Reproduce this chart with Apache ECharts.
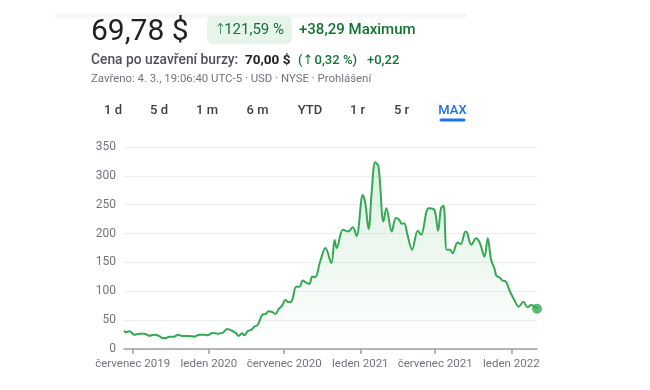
<!DOCTYPE html>
<html>
<head>
<meta charset="utf-8">
<script src="https://cdn.jsdelivr.net/npm/echarts@6/dist/echarts.min.js"></script>
<style>
html,body{margin:0;padding:0;background:#fff;}
#chart{width:650px;height:390px;}
</style>
</head>
<body>
<div id="chart"></div>
<script>
// ---- data ----
var dates = [
 '2019-06-10','2019-06-15','2019-06-23','2019-07-05','2019-07-17','2019-07-29','2019-08-10','2019-08-22',
 '2019-09-03','2019-09-11','2019-09-19','2019-09-27','2019-10-09','2019-10-19','2019-10-29','2019-11-15',
 '2019-11-27','2019-12-09','2019-12-21','2019-12-29','2020-01-10','2020-01-22','2020-02-03','2020-02-15',
 '2020-02-27','2020-03-07','2020-03-13','2020-03-21','2020-03-27','2020-04-04','2020-04-12','2020-04-20',
 '2020-04-28','2020-05-09','2020-05-18','2020-05-24','2020-06-02','2020-06-10','2020-06-18','2020-06-26',
 '2020-07-04','2020-07-12','2020-07-20','2020-07-30','2020-08-07','2020-08-15','2020-08-23','2020-08-31',
 '2020-09-07','2020-09-14','2020-09-26','2020-10-09','2020-10-23','2020-10-31','2020-11-05','2020-11-20',
 '2020-12-02','2020-12-14','2020-12-23','2021-01-07','2021-01-13','2021-01-21','2021-01-29','2021-02-06',
 '2021-02-14','2021-02-26','2021-03-05','2021-03-18','2021-03-28','2021-04-05','2021-04-11','2021-04-17',
 '2021-04-25','2021-05-06','2021-05-20','2021-05-28','2021-06-15','2021-06-29','2021-07-08','2021-07-15',
 '2021-07-21','2021-07-29','2021-08-06','2021-08-12','2021-08-24','2021-09-01','2021-09-12','2021-09-16',
 '2021-09-26','2021-10-08','2021-10-17','2021-10-28','2021-11-05','2021-11-13','2021-11-21','2021-11-26',
 '2021-12-03','2021-12-11','2021-12-19','2021-12-27','2022-01-08','2022-01-19','2022-01-30','2022-02-09',
 '2022-02-18','2022-03-04'
];
var prices = [
 31.8,29,30.7,24.8,26.6,26.6,23,24.8,
 22.6,19,19,21.4,21.4,24.8,22.6,22.6,
 21.4,24.8,24.8,23.8,27.8,26.6,27.8,34.7,
 31.2,27.2,22.6,27.2,23.8,31.2,33,38.7,
 41.7,59,60.8,65.4,64.2,60.8,69.4,74.6,
 85,81,83.9,108,108,118.6,115,112.8,
 125.5,124.4,151.6,174.8,148.8,189,174.8,206.6,
 203.6,211,196,267,253,207.8,276,323.4,
 316.5,221,244,203.6,227,224,217,218,
 198,172,205,198,244,241,205,244,
 248,172,172,166,184.5,182,203.6,202,
 180.5,192,183.5,160,192,154.5,140,126.7,
 124.4,118.6,116.8,102.4,85,73.4,82,72.4,
 76.4,69.78
];
var tickDates = ['2019-07-01','2020-01-01','2020-07-01','2021-01-01','2021-07-01','2022-01-01'];
var yTicks = [0,50,100,150,200,250,300,350];
var monthNames = ['leden','únor','březen','duben','květen','červen','červenec','srpen','září','říjen','listopad','prosinec'];
var tabs = ['1 d','5 d','1 m','6 m','YTD','1 r','5 r','MAX'];

function parseD(s){var p=s.split('-');return new Date(+p[0],+p[1]-1,+p[2]).getTime();}
var seriesData = dates.map(function(d,i){return [parseD(d), prices[i]];});
var tickVals = tickDates.map(parseD);
var lastPt = seriesData[seriesData.length-1];

var FONT = 'Roboto, Arial, sans-serif';
var ARROW = '"DejaVu Sans", sans-serif';
var GREEN = '#137333';
var tabCenters = [113,159,207,257.5,310,357.5,401.5,452.5];
var graphics = [
  {type:'rect', shape:{x:55,y:14,width:412,height:6}, silent:true,
   style:{fill:{type:'linear',x:0,y:0,x2:0,y2:1,colorStops:[{offset:0,color:'rgba(0,0,0,0.05)'},{offset:1,color:'rgba(0,0,0,0)'}]}}},
  {type:'text', style:{text:'69,78 $', x:91, y:32, font:'400 30px '+FONT, fill:'#202124', verticalAlign:'middle'}},
  {type:'rect', shape:{x:207,y:16,width:85,height:28,r:6}, style:{fill:'#e6f4ea'}},
  {type:'text', style:{text:'↑', x:214, y:30.5, font:'300 15px '+ARROW, fill:GREEN, verticalAlign:'middle'}},
  {type:'text', style:{text:'121,59 %', x:284, y:30.5, font:'400 15px '+FONT, fill:GREEN, align:'right', verticalAlign:'middle'}},
  {type:'text', style:{text:'+38,29 Maximum', x:299, y:30.5, font:'500 15px '+FONT, fill:GREEN, verticalAlign:'middle'}},
  {type:'text', style:{text:'Cena po uzavření burzy:', x:91, y:61, font:'500 13.8px '+FONT, fill:'#4d5156', verticalAlign:'middle'}},
  {type:'text', style:{text:'70,00 $', x:245, y:61, font:'700 13.5px '+FONT, fill:'#202124', verticalAlign:'middle'}},
  {type:'text', style:{text:'(', x:298, y:61, font:'500 13px '+FONT, fill:GREEN, verticalAlign:'middle'}},
  {type:'text', style:{text:'↑', x:302.5, y:61, font:'400 13px '+ARROW, fill:GREEN, verticalAlign:'middle'}},
  {type:'text', style:{text:'0,32 %)', x:357, y:61, font:'500 13px '+FONT, fill:GREEN, align:'right', verticalAlign:'middle'}},
  {type:'text', style:{text:'+0,22', x:367, y:61, font:'500 13px '+FONT, fill:GREEN, verticalAlign:'middle'}},
  {type:'text', style:{text:'Zavřeno: 4. 3., 19:06:40 UTC-5 · USD · NYSE · Prohlášení', x:91, y:79, font:'400 11.4px '+FONT, fill:'#70757a', verticalAlign:'middle'}}
];
tabs.forEach(function(t,i){
  var active = (t==='MAX');
  graphics.push({type:'text', style:{text:t, x:tabCenters[i], y:111, font:'500 13px '+FONT, fill: active?'#1a73e8':'#3c4043', align:'center', verticalAlign:'middle'}});
});
graphics.push({type:'rect', shape:{x:439.5,y:118.5,width:26,height:3,r:1.5}, style:{fill:'#1a73e8'}});

var chart = echarts.init(document.getElementById('chart'), null, {renderer:'canvas'});
chart.setOption({
  animation:false,
  backgroundColor:'#fff',
  grid:{left:124, right:113, top:147, bottom:41, containLabel:false},
  xAxis:{
    type:'value',
    min:seriesData[0][0], max:lastPt[0], scale:true,
    axisLine:{show:true, lineStyle:{color:'#9aa0a6', width:1.5}},
    axisTick:{show:true, length:5, customValues:tickVals, lineStyle:{color:'#9aa0a6', width:1.5}},
    axisLabel:{show:true, customValues:tickVals, margin:9, color:'#70757a', fontSize:11.5, fontFamily:FONT,
      showMinLabel:true, showMaxLabel:true,
      formatter:function(v){var d=new Date(v);return monthNames[d.getMonth()]+' '+d.getFullYear();}},
    splitLine:{show:false}
  },
  yAxis:{
    type:'value', min:yTicks[0], max:yTicks[yTicks.length-1], interval:50,
    axisLine:{show:false}, axisTick:{show:false},
    axisLabel:{margin:8, color:'#70757a', fontSize:12, fontFamily:FONT},
    splitLine:{show:true, lineStyle:{color:'#eeeeee', width:1}}
  },
  series:[
    {type:'line', data:seriesData, smooth:0.35, showSymbol:false,
     lineStyle:{color:'#34a853', width:2},
     areaStyle:{color:{type:'linear',x:0,y:0,x2:0,y2:1,colorStops:[{offset:0,color:'rgba(52,168,83,0.24)'},{offset:1,color:'rgba(52,168,83,0)'}]}},
     z:2},
    {type:'scatter', data:[lastPt], symbolSize:10, itemStyle:{color:'#34a853'}, z:3}
  ],
  graphic:graphics
});
</script>
</body>
</html>
